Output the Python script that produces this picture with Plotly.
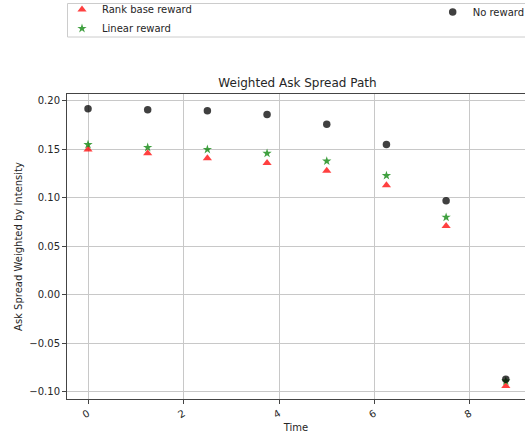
import plotly.graph_objects as go

time = [0.0, 1.25, 2.5, 3.75, 5.0, 6.25, 7.5, 8.75]
rank_base = [0.150, 0.146, 0.141, 0.136, 0.128, 0.113, 0.071, -0.094]
linear = [0.155, 0.152, 0.150, 0.146, 0.138, 0.123, 0.080, -0.089]
no_reward = [0.192, 0.191, 0.190, 0.186, 0.176, 0.155, 0.097, -0.087]

x_ticks = [0, 2, 4, 6, 8]
y_ticks = [0.20, 0.15, 0.10, 0.05, 0.00, -0.05, -0.10]
y_tick_text = ["0.20", "0.15", "0.10", "0.05", "0.00", "\u22120.05", "\u22120.10"]

FONT = "DejaVu Sans"

fig = go.Figure()
fig.add_trace(go.Scatter(
    x=time, y=rank_base, mode="markers", name="Rank base reward",
    marker=dict(symbol="triangle-up", size=8, color="rgba(255,0,0,0.75)", line=dict(width=0)),
    legend="legend",
))
fig.add_trace(go.Scatter(
    x=time, y=linear, mode="markers", name="Linear reward",
    marker=dict(symbol="star", size=7, color="rgba(0,128,0,0.75)", line=dict(width=0)),
    legend="legend",
))
fig.add_trace(go.Scatter(
    x=time, y=no_reward, mode="markers", name="No reward",
    marker=dict(symbol="circle", size=7.5, color="rgba(0,0,0,0.75)", line=dict(width=0)),
    legend="legend2",
))

W, H = 525, 437
L, T, B = 67, 94, 38
pw = W - L
ph = H - T - B

def px_x(p):
    return (p - L) / pw

def px_y(p):
    return (H - B - p) / ph

fig.update_layout(
    width=W, height=H,
    margin=dict(l=L, r=0, t=T, b=B, pad=0, autoexpand=False),
    plot_bgcolor="white", paper_bgcolor="white",
    font=dict(family=FONT, size=10, color="#262626"),
    title=dict(text="Weighted Ask Spread Path", x=px_x(297.5), xref="paper",
               xanchor="center", y=1 - 83 / H, yref="container", yanchor="middle",
               font=dict(size=12, family=FONT, color="#262626")),
    legend=dict(x=px_x(62), y=px_y(19), xanchor="left", yanchor="middle",
                bgcolor="rgba(0,0,0,0)", borderwidth=0,
                font=dict(size=10, family=FONT, color="#262626"), tracegroupgap=0),
    legend2=dict(x=px_x(432.7), y=px_y(12), xanchor="left", yanchor="middle",
                 bgcolor="rgba(0,0,0,0)", borderwidth=0,
                 font=dict(size=10, family=FONT, color="#262626")),
    showlegend=True,
    xaxis=dict(range=[-0.44, 9.152], tickvals=x_ticks, ticktext=[str(v) for v in x_ticks],
               tickangle=-30, showgrid=True, gridcolor="#c8c8c8", gridwidth=1,
               zeroline=False, showline=True, linecolor="#444", linewidth=1, mirror=True,
               ticks="outside", ticklen=4, tickcolor="#444", automargin=False,
               title=dict(text="Time", font=dict(size=10, family=FONT), standoff=4)),
    yaxis=dict(range=[-0.1075, 0.2072], tickvals=y_ticks, ticktext=y_tick_text,
               showgrid=True, gridcolor="#c8c8c8", gridwidth=1,
               zeroline=False, showline=True, linecolor="#444", linewidth=1,
               ticks="outside", ticklen=4, tickcolor="#444", automargin=False,
               title=dict(text="Ask Spread Weighted by Intensity", font=dict(size=10, family=FONT), standoff=4)),
)

# legend frame (box extending past right edge)
x0, x1 = px_x(67.5), px_x(540)
y0, y1 = px_y(37), px_y(3.5)
fig.add_shape(type="rect", xref="paper", yref="paper", x0=x0, x1=x1, y0=y0, y1=y1,
              line=dict(color="#cccccc", width=1), fillcolor="rgba(255,255,255,0.8)", layer="below")

fig.write_html("out.html")
